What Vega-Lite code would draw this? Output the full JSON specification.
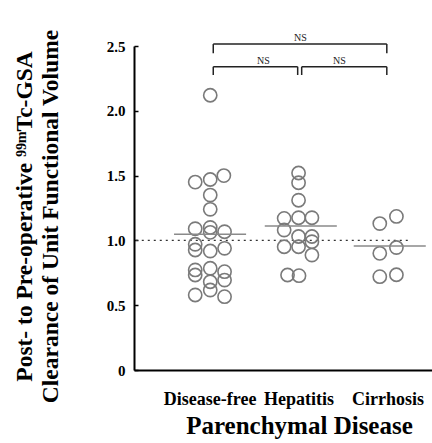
{
  "$schema": "https://vega.github.io/schema/vega-lite/v6.json",
  "width": 298,
  "height": 324,
  "autosize": {"type": "none"},
  "padding": {"left": 134, "top": 46, "right": 0, "bottom": 73},
  "background": "white",
  "config": {"view": {"stroke": null}, "font": "Liberation Serif"},
  "datasets": {
    "points": [
      {"group": "Disease-free", "pos": 1.007, "value": 2.12},
      {"group": "Disease-free", "pos": 0.838, "value": 1.45},
      {"group": "Disease-free", "pos": 1.007, "value": 1.47},
      {"group": "Disease-free", "pos": 1.16, "value": 1.5},
      {"group": "Disease-free", "pos": 1.007, "value": 1.35},
      {"group": "Disease-free", "pos": 1.007, "value": 1.24},
      {"group": "Disease-free", "pos": 0.838, "value": 1.09},
      {"group": "Disease-free", "pos": 1.007, "value": 1.1},
      {"group": "Disease-free", "pos": 1.007, "value": 1.062},
      {"group": "Disease-free", "pos": 1.168, "value": 1.067},
      {"group": "Disease-free", "pos": 0.838, "value": 0.97},
      {"group": "Disease-free", "pos": 0.838, "value": 0.926},
      {"group": "Disease-free", "pos": 1.007, "value": 0.918},
      {"group": "Disease-free", "pos": 1.168, "value": 0.939},
      {"group": "Disease-free", "pos": 0.838, "value": 0.772},
      {"group": "Disease-free", "pos": 0.838, "value": 0.733},
      {"group": "Disease-free", "pos": 1.007, "value": 0.785},
      {"group": "Disease-free", "pos": 1.168, "value": 0.759},
      {"group": "Disease-free", "pos": 1.168, "value": 0.694},
      {"group": "Disease-free", "pos": 1.007, "value": 0.681},
      {"group": "Disease-free", "pos": 1.007, "value": 0.617},
      {"group": "Disease-free", "pos": 0.838, "value": 0.579},
      {"group": "Disease-free", "pos": 1.168, "value": 0.566},
      {"group": "Hepatitis", "pos": 2.0, "value": 1.52},
      {"group": "Hepatitis", "pos": 2.0, "value": 1.445},
      {"group": "Hepatitis", "pos": 2.0, "value": 1.31},
      {"group": "Hepatitis", "pos": 1.838, "value": 1.17},
      {"group": "Hepatitis", "pos": 2.0, "value": 1.175},
      {"group": "Hepatitis", "pos": 2.15, "value": 1.175},
      {"group": "Hepatitis", "pos": 1.838, "value": 1.08},
      {"group": "Hepatitis", "pos": 2.0, "value": 1.03},
      {"group": "Hepatitis", "pos": 2.15, "value": 1.03},
      {"group": "Hepatitis", "pos": 2.15, "value": 0.99},
      {"group": "Hepatitis", "pos": 1.838, "value": 0.951},
      {"group": "Hepatitis", "pos": 2.0, "value": 0.951},
      {"group": "Hepatitis", "pos": 2.15, "value": 0.887},
      {"group": "Hepatitis", "pos": 1.876, "value": 0.733},
      {"group": "Hepatitis", "pos": 2.005, "value": 0.728},
      {"group": "Cirrhosis", "pos": 2.913, "value": 1.13},
      {"group": "Cirrhosis", "pos": 3.1, "value": 1.185},
      {"group": "Cirrhosis", "pos": 2.913, "value": 0.9},
      {"group": "Cirrhosis", "pos": 3.1, "value": 0.945},
      {"group": "Cirrhosis", "pos": 2.913, "value": 0.72},
      {"group": "Cirrhosis", "pos": 3.1, "value": 0.735}
    ],
    "medians": [
      {"group": "Disease-free", "pos": 0.6, "pos2": 1.41, "value": 1.047},
      {"group": "Hepatitis", "pos": 1.62, "pos2": 2.43, "value": 1.111},
      {"group": "Cirrhosis", "pos": 2.62, "pos2": 3.43, "value": 0.957}
    ],
    "reference": [
      {"pos": 0.17, "pos2": 3.26, "value": 1.0}
    ],
    "bars": [
      {"pos": 1.041, "pos2": 2.992, "value": 2.515},
      {"pos": 1.041, "pos2": 1.99, "value": 2.34},
      {"pos": 2.035, "pos2": 2.992, "value": 2.34}
    ],
    "legs": [
      {"pos": 1.041, "value": 2.515, "value2": 2.444},
      {"pos": 2.992, "value": 2.515, "value2": 2.444},
      {"pos": 1.041, "value": 2.34, "value2": 2.276},
      {"pos": 1.99, "value": 2.34, "value2": 2.276},
      {"pos": 2.035, "value": 2.34, "value2": 2.276},
      {"pos": 2.992, "value": 2.34, "value2": 2.276}
    ],
    "ns": [
      {"pos": 2.02, "value": 2.515, "label": "NS"},
      {"pos": 1.605, "value": 2.34, "label": "NS"},
      {"pos": 2.46, "value": 2.34, "label": "NS"}
    ]
  },
  "layer": [
    {
      "data": {"name": "reference"},
      "mark": {"type": "rule", "color": "#333333", "strokeWidth": 1.2, "strokeDash": [2, 4]},
      "encoding": {
        "x": {"field": "pos", "type": "quantitative"},
        "x2": {"field": "pos2"},
        "y": {"field": "value", "type": "quantitative"}
      }
    },
    {
      "data": {"name": "points"},
      "mark": {"type": "point", "shape": "circle", "filled": false, "size": 175, "stroke": "#7a7a7a", "strokeWidth": 1.6, "opacity": 1},
      "encoding": {
        "x": {
          "field": "pos", "type": "quantitative",
          "scale": {"domain": [0.15, 3.5], "nice": false, "zero": false},
          "axis": {
            "title": "Parenchymal Disease",
            "values": [1, 2, 3],
            "labelExpr": "datum.value == 1 ? 'Disease-free' : datum.value == 2 ? 'Hepatitis' : 'Cirrhosis'",
            "ticks": false, "grid": false,
            "domainColor": "black", "domainWidth": 2,
            "labelFont": "Liberation Serif", "labelFontWeight": "bold", "labelFontSize": 18, "labelColor": "black",
            "labelPadding": 20,
            "titleFont": "Liberation Serif", "titleFontWeight": "bold", "titleFontSize": 25, "titleColor": "black",
            "titlePadding": 5,
            "titleX": 165
          }
        },
        "y": {
          "field": "value", "type": "quantitative",
          "scale": {"domain": [0, 2.5], "nice": false},
          "axis": {
            "title": ["Post- to Pre-operative ⁹⁹ᵐTc-GSA", "Clearance of Unit Functional Volume"],
            "values": [0, 0.5, 1, 1.5, 2, 2.5],
            "labelExpr": "datum.value == 0 ? '0' : format(datum.value, '.1f')",
            "grid": false,
            "tickSize": -4, "tickColor": "black", "tickWidth": 1.5,
            "domainColor": "black", "domainWidth": 2,
            "labelFont": "Liberation Serif", "labelFontWeight": "bold", "labelFontSize": 15, "labelColor": "black",
            "labelPadding": 13,
            "titleFont": "Liberation Serif", "titleFontWeight": "bold", "titleFontSize": 23.5, "titleColor": "black",
            "titleLineHeight": 26,
            "titlePadding": 44,
            "titleY": 170
          }
        }
      }
    },
    {
      "data": {"name": "medians"},
      "mark": {"type": "rule", "color": "#8a8a8a", "strokeWidth": 1.5},
      "encoding": {
        "x": {"field": "pos", "type": "quantitative"},
        "x2": {"field": "pos2"},
        "y": {"field": "value", "type": "quantitative"}
      }
    },
    {
      "data": {"name": "bars"},
      "mark": {"type": "rule", "color": "#222222", "strokeWidth": 1.5},
      "encoding": {
        "x": {"field": "pos", "type": "quantitative"},
        "x2": {"field": "pos2"},
        "y": {"field": "value", "type": "quantitative"}
      }
    },
    {
      "data": {"name": "legs"},
      "mark": {"type": "rule", "color": "#222222", "strokeWidth": 1.5},
      "encoding": {
        "x": {"field": "pos", "type": "quantitative"},
        "y": {"field": "value", "type": "quantitative"},
        "y2": {"field": "value2"}
      }
    },
    {
      "data": {"name": "ns"},
      "mark": {"type": "text", "font": "Liberation Serif", "fontSize": 10, "color": "#222222", "baseline": "bottom", "dy": -1},
      "encoding": {
        "x": {"field": "pos", "type": "quantitative"},
        "y": {"field": "value", "type": "quantitative"},
        "text": {"field": "label"}
      }
    }
  ]
}
